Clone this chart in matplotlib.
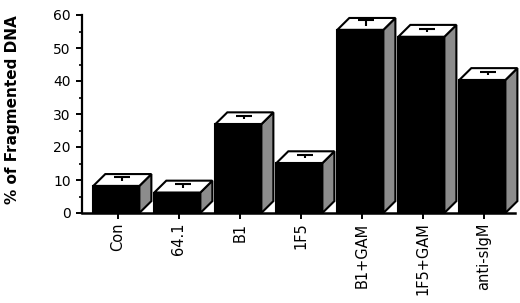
import matplotlib
matplotlib.use("Agg")
import matplotlib.pyplot as plt
from matplotlib.patches import Polygon

categories = ["Con", "64.1", "B1", "1F5", "B1+GAM", "1F5+GAM", "anti-sIgM"]
values = [8.2, 6.2, 26.9, 15.1, 55.5, 53.4, 40.3]
errors = [1.0, 0.7, 0.8, 0.7, 1.1, 0.6, 0.7]
yticks = [0, 10, 20, 30, 40, 50, 60]

plt.rcParams['font.family'] = ['DejaVu Sans']

fig = plt.figure(figsize=(5.2, 3.03), dpi=100)
ax = fig.add_axes([82/520, 90/303, 433/520, 198/303])

left_off, right_off = -0.40, 0.355  # front face extent relative to tick
dx, dy = 0.197, 3.6                 # depth offset in data units
lw = 1.5
side_color = "#8c8c8c"

for i, v in enumerate(values):
    L, R = i + left_off, i + right_off
    front = Polygon([(L, 0), (R, 0), (R, v), (L, v)], closed=True,
                    facecolor="black", edgecolor="black", lw=lw, zorder=3)
    side = Polygon([(R, 0), (R + dx, dy), (R + dx, v + dy), (R, v)], closed=True,
                   facecolor=side_color, edgecolor="black", lw=lw, zorder=2,
                   joinstyle="miter")
    top = Polygon([(L, v), (R, v), (R + dx, v + dy), (L + dx, v + dy)], closed=True,
                  facecolor="white", edgecolor="black", lw=lw, zorder=2,
                  joinstyle="miter")
    for p in (side, top, front):
        p.set_clip_on(False)
        ax.add_patch(p)
    # error bar on top face
    cx = (L + R) / 2 + dx / 2
    cy = v + dy / 2
    e = errors[i]
    ax.plot([cx, cx], [cy - 0.45 * e, cy + e], color="black", lw=1.5, zorder=4,
            clip_on=False, solid_capstyle="butt")
    ax.plot([cx - 0.13, cx + 0.13], [cy + e, cy + e], color="black", lw=1.5,
            zorder=4, clip_on=False, solid_capstyle="butt")

ax.set_xlim(-0.585, 6.513)
ax.set_ylim(0, 60)
ax.set_yticks(yticks)
ax.set_yticks([5, 15, 25, 35, 45, 55], minor=True)
ax.set_xticks(range(len(categories)))
ax.set_xticklabels(categories, rotation=90, fontsize=10.5)
ax.tick_params(axis="y", labelsize=10, direction="out", length=4, width=1.4, pad=4)
ax.tick_params(axis="y", which="minor", direction="out", length=2.5, width=1.2)
ax.tick_params(axis="x", direction="out", length=4, width=1.4, pad=3)

for s in ("top", "right"):
    ax.spines[s].set_visible(False)
ax.spines["left"].set_linewidth(1.6)
ax.spines["bottom"].set_linewidth(1.8)
ax.spines["bottom"].set_zorder(5)

ax.set_ylabel("% of Fragmented DNA", fontsize=11, fontweight="bold")
ax.yaxis.set_label_coords(-0.143, 0.52)

fig.savefig("out.png", dpi=100)
